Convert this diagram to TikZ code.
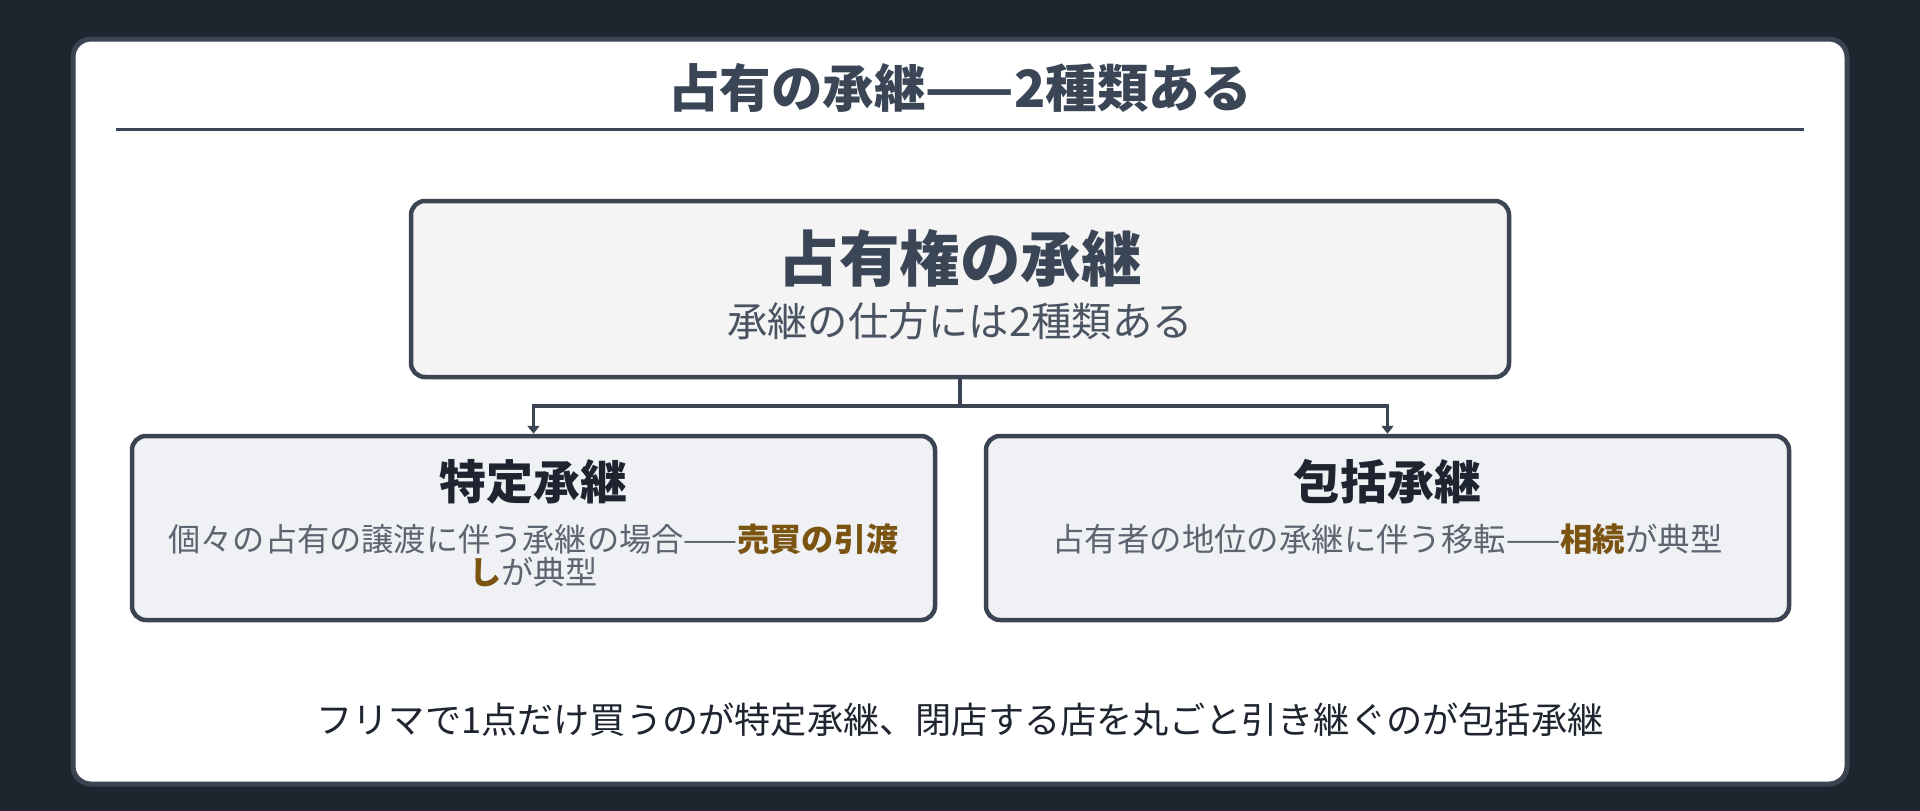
\documentclass[tikz,border=0pt]{standalone}
\usepackage{fontspec}
\setmainfont{Noto Sans CJK JP}
\usetikzlibrary{arrows.meta}
\definecolor{bgdark}{HTML}{1E252F}
\definecolor{cardborder}{HTML}{3B4452}
\definecolor{titlecol}{HTML}{3A4556}
\definecolor{topfill}{HTML}{F4F4F5}
\definecolor{subfill}{HTML}{EFF1F5}
\definecolor{boxtitle}{HTML}{1F2530}
\definecolor{desccol}{HTML}{5C6470}
\definecolor{subcol}{HTML}{4A5361}
\definecolor{hl}{HTML}{7A5410}
\definecolor{bottomcol}{HTML}{1F2530}
\tikzset{
  box/.style={draw=cardborder, line width=4.5pt, rounded corners=14pt, inner sep=0pt},
  conn/.style={draw=cardborder, line width=3.5pt},
  tip/.style={-{Triangle[width=12pt,length=8pt]}},
  txt/.style={inner sep=0pt, align=center},
}
\newcommand{\hlt}[1]{\textbf{\color{hl}#1}}
\begin{document}
\begin{tikzpicture}[x=1pt,y=-1pt]
\fill[bgdark] (0,0) rectangle (1920,811);
\useasboundingbox (0,0) rectangle (1920,811);
\draw[cardborder, line width=5pt, fill=white, rounded corners=18pt] (73,39) rectangle (1847,784);
\node[txt, text=titlecol, font=\fontsize{51.5}{58}\selectfont\bfseries] (title) at (960,88) {占有の承継——2種類ある};
\draw[titlecol, line width=3pt] (116,129) -- (1804,129);

\node[box, fill=topfill, minimum width=1098pt, minimum height=176pt] (top) at (960,289) {};
\node[txt, text=titlecol, font=\fontsize{60.5}{68}\selectfont\bfseries] (toptitle) at (960,258) {占有権の承継};
\node[txt, text=subcol, font=\fontsize{40.3}{46}\selectfont] (topsub) at (960,321) {承継の仕方には2種類ある};

\node[box, fill=subfill, minimum width=803pt, minimum height=184pt] (left) at (533.5,528) {};
\node[box, fill=subfill, minimum width=803pt, minimum height=184pt] (right) at (1387.5,528) {};

\node[txt, text=boxtitle, font=\fontsize{46.8}{52}\selectfont\bfseries] (lefttitle) at (533.5,482) {特定承継};
\node[txt, text=desccol, font=\fontsize{32.2}{33}\selectfont] (leftdesc) at (533.5,556) {個々の占有の譲渡に伴う承継の場合——\hlt{売買の引渡}\\\hlt{し}が典型};

\node[txt, text=boxtitle, font=\fontsize{46.8}{52}\selectfont\bfseries] (righttitle) at (1387.5,482) {包括承継};
\node[txt, text=desccol, font=\fontsize{32.4}{33}\selectfont] (rightdesc) at (1387.5,539) {占有者の地位の承継に伴う移転——\hlt{相続}が典型};

\coordinate (mid) at (960,406);
\draw[conn] (top.south) -- (mid);
\draw[conn, tip] (mid) -| (left.north);
\draw[conn, tip] (mid) -| (right.north);

\node[txt, text=bottomcol, font=\fontsize{36.2}{42}\selectfont] (bottom) at (960,720) {フリマで1点だけ買うのが特定承継、閉店する店を丸ごと引き継ぐのが包括承継};
\end{tikzpicture}
\end{document}
